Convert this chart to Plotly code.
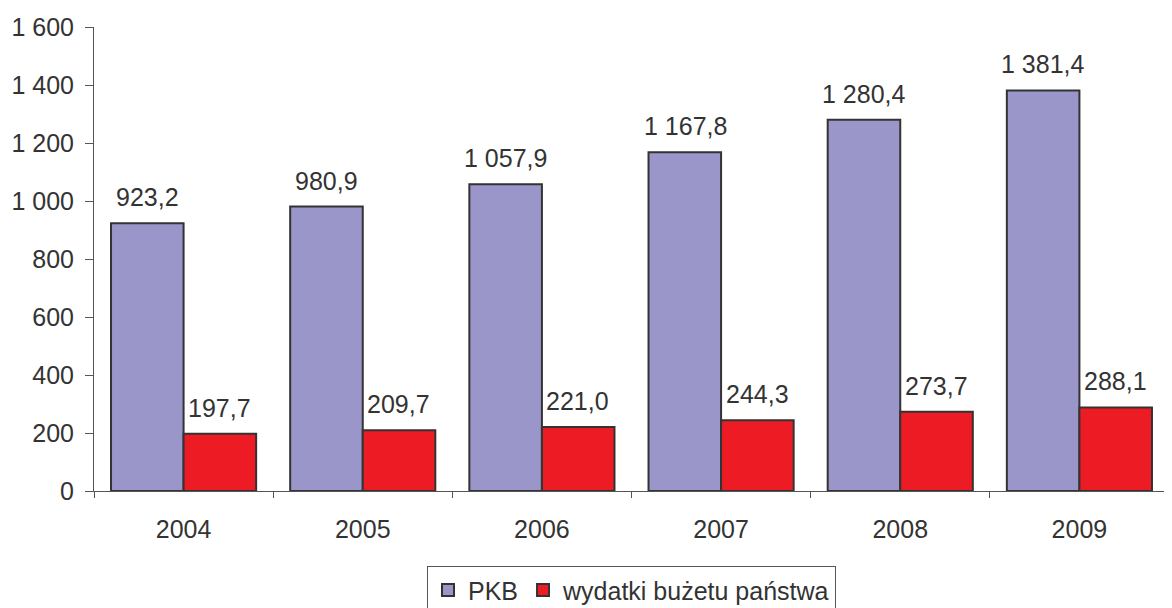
import plotly.graph_objects as go

years = ["2004", "2005", "2006", "2007", "2008", "2009"]
pkb = [923.2, 980.9, 1057.9, 1167.8, 1280.4, 1381.4]
wydatki = [197.7, 209.7, 221.0, 244.3, 273.7, 288.1]
series_names = ["PKB", "wydatki bużetu państwa"]
y_ticks = [0, 200, 400, 600, 800, 1000, 1200, 1400, 1600]

FONT = "Liberation Sans, Arial, sans-serif"
TXT = "#333333"
EDGE = "#333333"
FS = 25

fig = go.Figure()
fig.add_trace(go.Bar(x=years, y=pkb, name=series_names[0],
                     marker=dict(color="#9B96C9", line=dict(color=EDGE, width=2))))
fig.add_trace(go.Bar(x=years, y=wydatki, name=series_names[1],
                     marker=dict(color="#ED1C24", line=dict(color=EDGE, width=2))))

def fmt(v):
    s = f"{v:,.1f}"
    return s.replace(",", " ").replace(".", ",")

# annotations on a category axis are positioned by category index
for i, v in enumerate(pkb):
    fig.add_annotation(x=i, y=v, text=fmt(v), showarrow=False, xshift=-36,
                       yanchor="bottom", yshift=10, font=dict(size=FS, color=TXT, family=FONT))
for i, v in enumerate(wydatki):
    fig.add_annotation(x=i, y=v, text=fmt(v), showarrow=False, xshift=36,
                       yanchor="bottom", yshift=10, font=dict(size=FS, color=TXT, family=FONT))

# page body has an 8px margin, so the figure is sized to the visible area
fig.update_layout(
    width=1164, height=600,
    margin=dict(l=86, r=3, t=19, b=117, autoexpand=False),
    paper_bgcolor="white", plot_bgcolor="white",
    barmode="group", bargap=0.19, bargroupgap=0,
    separators=", ",
    font=dict(family=FONT, size=FS, color=TXT),
    showlegend=True,
    legend=dict(orientation="h", x=0.5, xanchor="center", y=-0.162, yanchor="top",
                bordercolor="#555555", borderwidth=1, font=dict(size=FS, color=TXT),
                itemwidth=30, tracegroupgap=0),
    xaxis=dict(type="category", showline=True, linecolor="#555555", linewidth=1,
               ticks="outside", tickson="boundaries", ticklen=6, tickcolor="#555555",
               ticklabelstandoff=16, showgrid=False, automargin=False,
               tickfont=dict(size=FS, color=TXT)),
    yaxis=dict(range=[0, 1600], tickvals=y_ticks, tickformat=",d",
               showline=True, linecolor="#555555", linewidth=1, ticks="outside",
               ticklen=8, tickcolor="#555555", ticklabelstandoff=6, automargin=False,
               showgrid=False, zeroline=False, tickfont=dict(size=FS, color=TXT)),
)

fig.write_html("out.html")
